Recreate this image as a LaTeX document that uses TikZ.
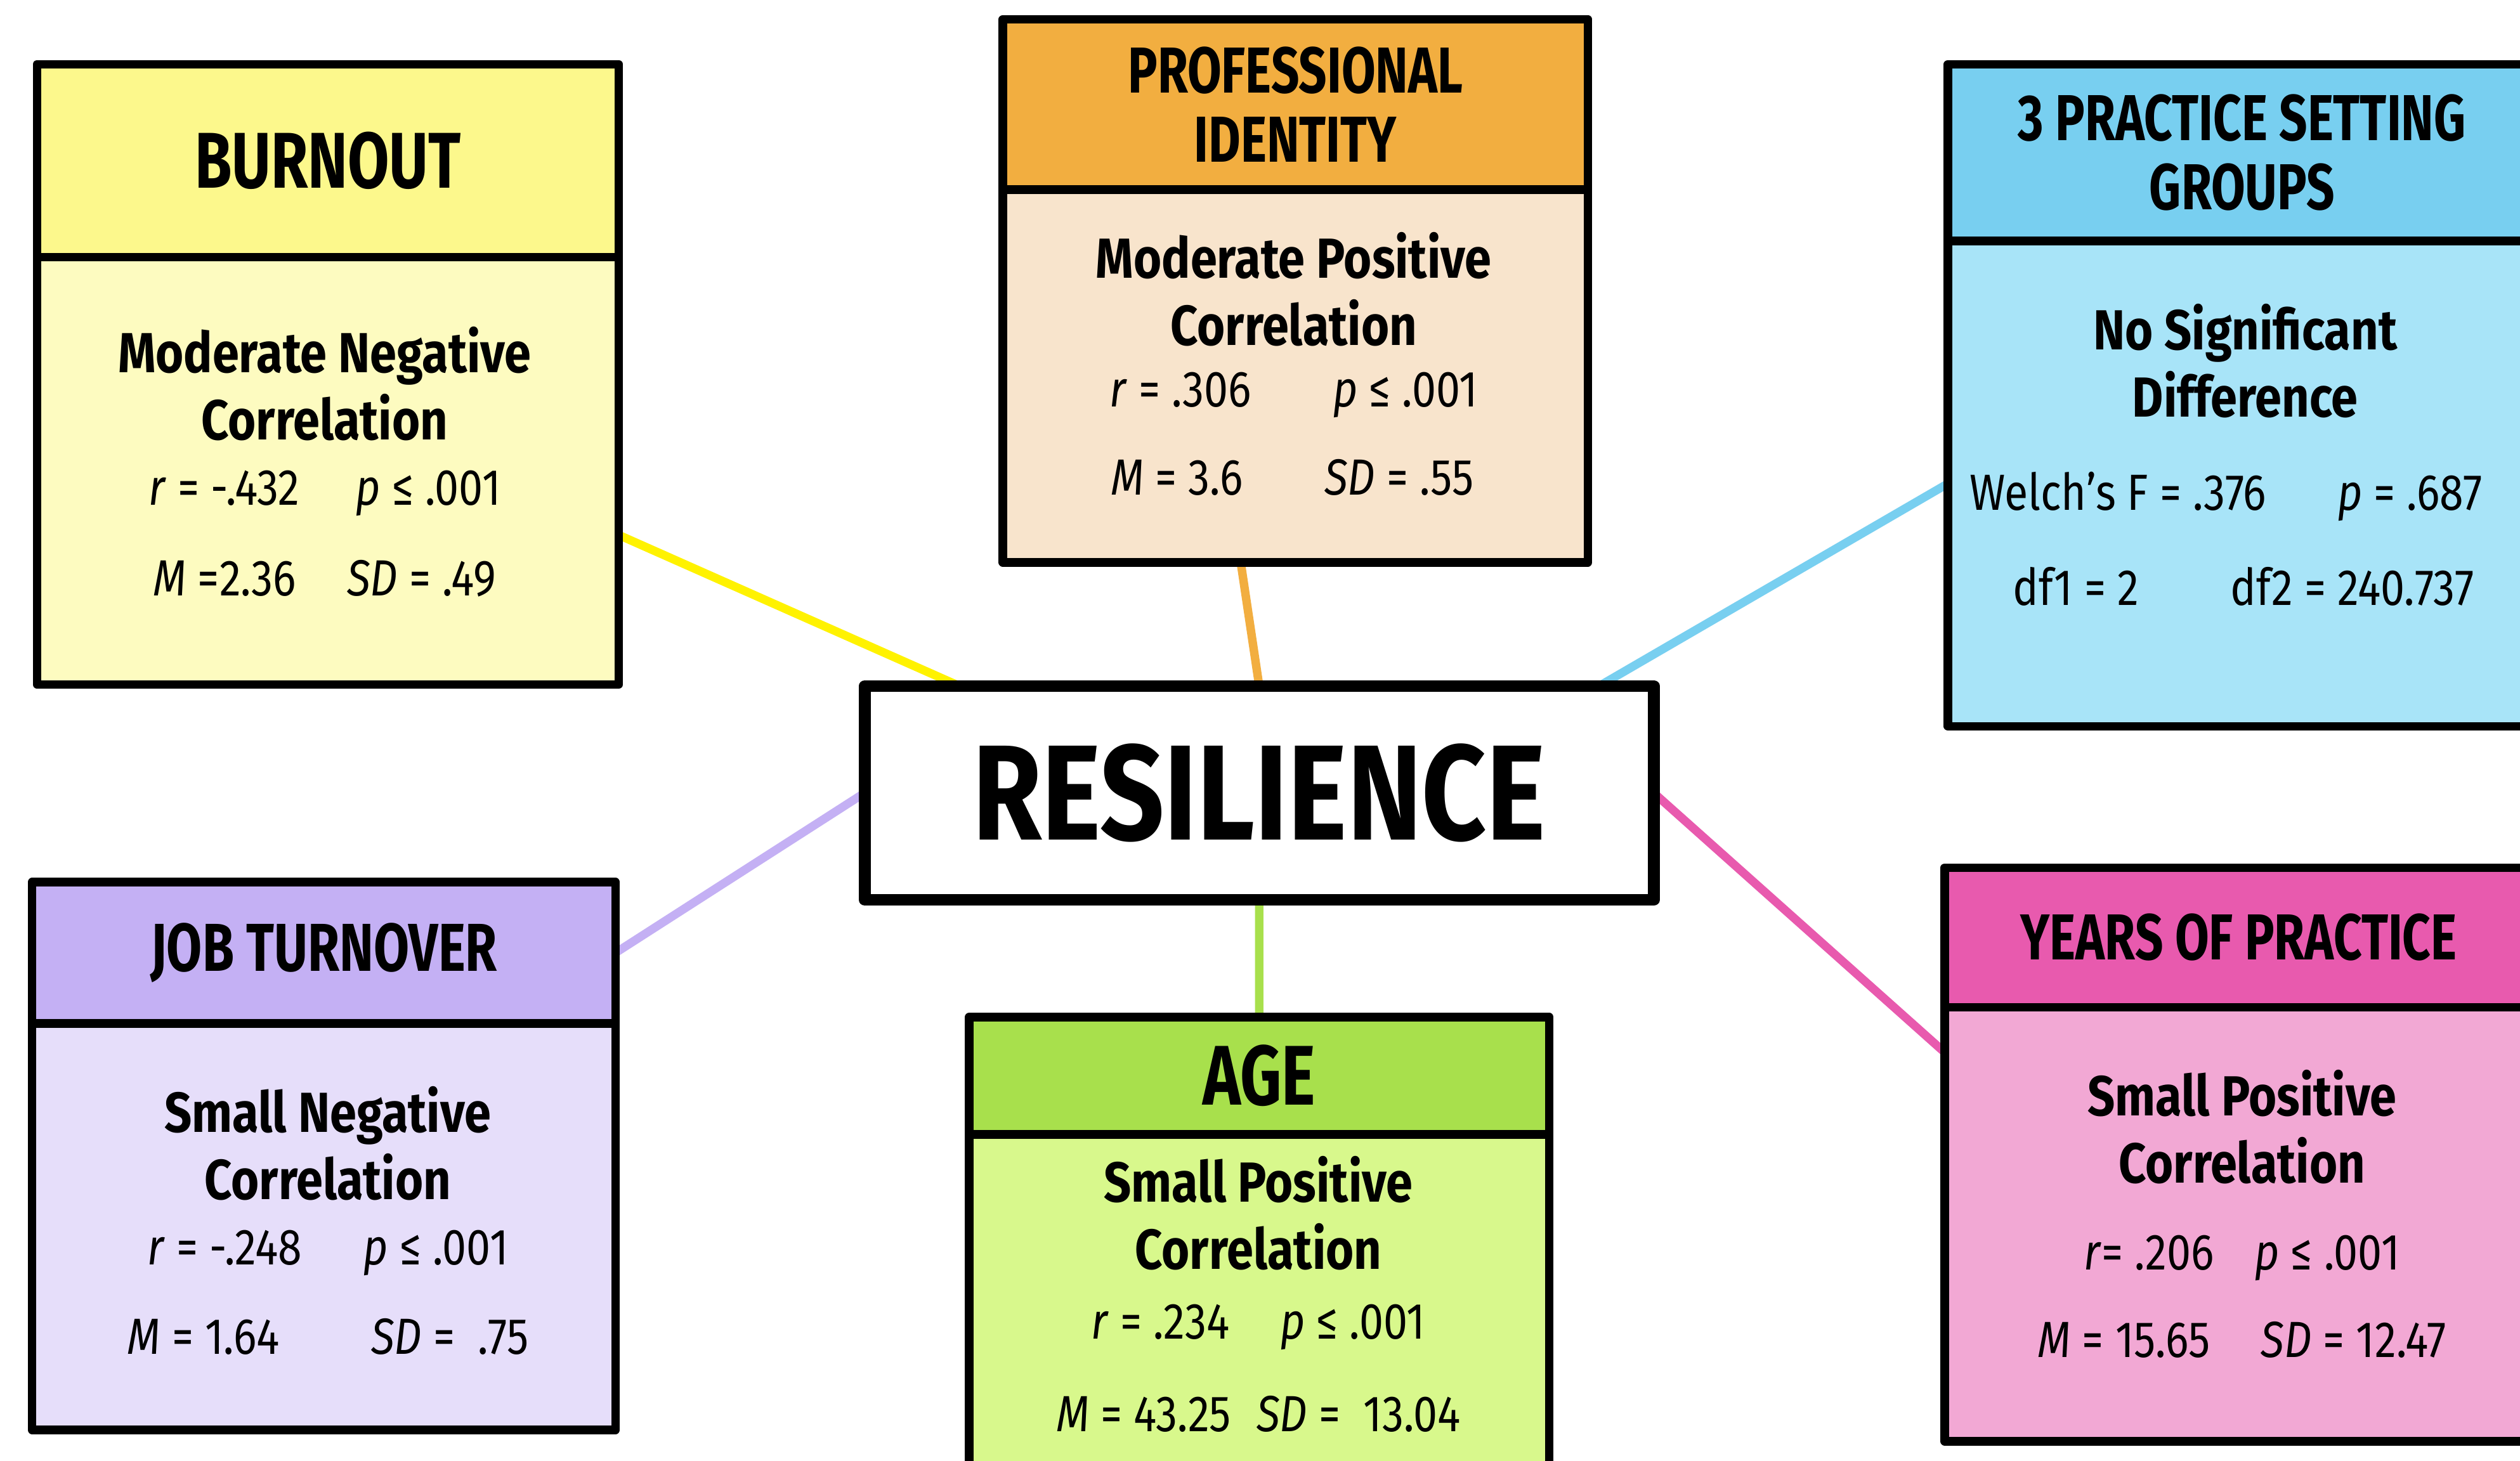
\documentclass[tikz,border=0pt]{standalone}
\usepackage{fontspec}
\setmainfont{Fira Sans}[FakeStretch=0.85]
\newfontfamily\headfont{Fira Sans}[FakeStretch=0.76]
\newfontfamily\bigfont{Fira Sans}[FakeStretch=0.83]
\usetikzlibrary{backgrounds}

\definecolor{burnhd}{HTML}{FCF88C}
\definecolor{burnbd}{HTML}{FDFBC0}
\definecolor{profhd}{HTML}{F2AE40}
\definecolor{profbd}{HTML}{F8E4CC}
\definecolor{prachd}{HTML}{78CFF0}
\definecolor{pracbd}{HTML}{A8E4F8}
\definecolor{jobhd}{HTML}{C4B0F4}
\definecolor{jobbd}{HTML}{E6DEFA}
\definecolor{agehd}{HTML}{A8E04C}
\definecolor{agebd}{HTML}{D8F88C}
\definecolor{yrshd}{HTML}{E85AAE}
\definecolor{yrsbd}{HTML}{F2A8D4}
\definecolor{linkyel}{HTML}{FFF200}

\begin{document}
\begin{tikzpicture}[line join=round,
    head/.style={draw, line width=1.5pt, inner sep=0pt, outer sep=0pt,
      align=center, anchor=north west, font=\headfont\bfseries\fontsize{11.5}{12.2}\selectfont},
    body/.style={draw, line width=1.5pt, inner sep=0pt, outer sep=0pt, anchor=north},
    ttl/.style={inner sep=1pt, align=center, font=\bfseries\fontsize{10}{11.9}\selectfont},
    stat/.style={inner sep=1pt, font=\fontsize{9}{10}\selectfont},
    link/.style={line width=1.5pt}]
  \useasboundingbox (0,0) rectangle (15.68,9.09);
  \clip (0,0) rectangle (15.68,9.09);

  % centre box
  \node[draw, line width=2.1pt, fill=white, minimum width=4.91cm, minimum height=1.33cm,
    inner sep=0pt, outer sep=0pt, font=\bigfont\bfseries\fontsize{24}{26}\selectfont]
    (res) at (7.835,4.155) {RESILIENCE};

  % burnout
  \node[head, fill=burnhd, minimum width=3.62cm, minimum height=1.20cm,
    font=\headfont\bfseries\fontsize{14}{15}\selectfont] (burnh) at (0.23,8.69) {BURNOUT};
  \node[body, fill=burnbd, minimum width=3.62cm, minimum height=2.66cm] (burn) at (burnh.south) {};
  \node[ttl] (burn1) at (2.02,6.70) {Moderate Negative\\Correlation};
  \node[stat] (burn2) at (2.02,6.02) {\textit{r} = -.432\hspace{1.1em}\textit{p} ≤ .001};
  \node[stat] (burn3) at (2.02,5.49) {\textit{M} =2.36\hspace{1em}\textit{SD} = .49};

  % professional identity
  \node[head, fill=profhd, minimum width=3.64cm, minimum height=1.06cm] (profh) at (6.24,8.97) {PROFESSIONAL\\IDENTITY};
  \node[body, fill=profbd, minimum width=3.64cm, minimum height=2.32cm] (prof) at (profh.south) {};
  \node[ttl] (prof1) at (8.05,7.29) {Moderate Positive\\Correlation};
  \node[stat] (prof2) at (8.05,6.63) {\textit{r} = .306\hspace{1.6em}\textit{p} ≤ .001};
  \node[stat] (prof3) at (8.04,6.12) {\textit{M} = 3.6\hspace{1.6em}\textit{SD} = .55};

  % practice setting
  \node[head, fill=prachd, minimum width=3.66cm, minimum height=1.10cm] (prach) at (12.12,8.69) {3 PRACTICE SETTING\\GROUPS};
  \node[body, fill=pracbd, minimum width=3.66cm, minimum height=3.02cm] (prac) at (prach.south) {};
  \node[ttl] (prac1) at (13.97,6.845) {No Significant\\Difference};
  \node[stat] (prac2) at (13.85,6.00) {Welch’s F = .376\hspace{1.4em}\textit{p} = .687};
  \node[stat] (prac3) at (13.96,5.44) {df1 = 2\hspace{1.8em}df2 = 240.737};

  % job turnover
  \node[head, fill=jobhd, minimum width=3.63cm, minimum height=0.88cm,
    font=\headfont\bfseries\fontsize{12}{13}\selectfont] (jobh) at (0.20,3.60) {JOB TURNOVER};
  \node[body, fill=jobbd, minimum width=3.63cm, minimum height=2.53cm] (job) at (jobh.south) {};
  \node[ttl] (job1) at (2.04,1.975) {Small Negative\\Correlation};
  \node[stat] (job2) at (2.04,1.29) {\textit{r} = -.248\hspace{1.2em}\textit{p} ≤ .001};
  \node[stat] (job3) at (2.04,0.77) {\textit{M} = 1.64\hspace{1.8em}\textit{SD} = \ .75};

  % age
  \node[head, fill=agehd, minimum width=3.61cm, minimum height=0.73cm,
    font=\headfont\bfseries\fontsize{15}{16}\selectfont] (ageh) at (6.03,2.76) {AGE};
  \node[body, fill=agebd, minimum width=3.61cm, minimum height=2.40cm] (age) at (ageh.south) {};
  \node[ttl] (age1) at (7.83,1.54) {Small Positive\\Correlation};
  \node[stat] (age2) at (7.83,0.83) {\textit{r} = .234\hspace{1em}\textit{p} ≤ .001};
  \node[stat] (age3) at (7.83,0.29) {\textit{M} = 43.25\hspace{0.5em}\textit{SD} = \ 13.04};

  % years of practice
  \node[head, fill=yrshd, minimum width=3.66cm, minimum height=0.87cm] (yrsh) at (12.10,3.69) {YEARS OF PRACTICE};
  \node[body, fill=yrsbd, minimum width=3.66cm, minimum height=2.70cm] (yrs) at (yrsh.south) {};
  \node[ttl] (yrs1) at (13.95,2.075) {Small Positive\\Correlation};
  \node[stat] (yrs2) at (13.95,1.26) {\textit{r}= .206\hspace{0.8em}\textit{p} ≤ .001};
  \node[stat] (yrs3) at (13.95,0.75) {\textit{M} = 15.65\hspace{1em}\textit{SD} = 12.47};

  % connectors behind the boxes
  \begin{scope}[on background layer]
    \fill[white] (0,0) rectangle (15.68,9.09);
    \draw[link, linkyel] ([yshift=-0.40cm]burn.east) -- ([xshift=0.59cm]res.north west);
    \draw[link, profhd] ([xshift=-0.34cm]prof.south) -- (res.north);
    \draw[link, prachd] (prac.west) -- ([xshift=-0.34cm]res.north east);
    \draw[link, jobhd] (jobh.east) -- (res.west);
    \draw[link, agehd] (res.south) -- (ageh.north);
    \draw[link, yrshd] (res.east) -- ([yshift=-0.28cm]yrsh.south west);
  \end{scope}
\end{tikzpicture}
\end{document}
